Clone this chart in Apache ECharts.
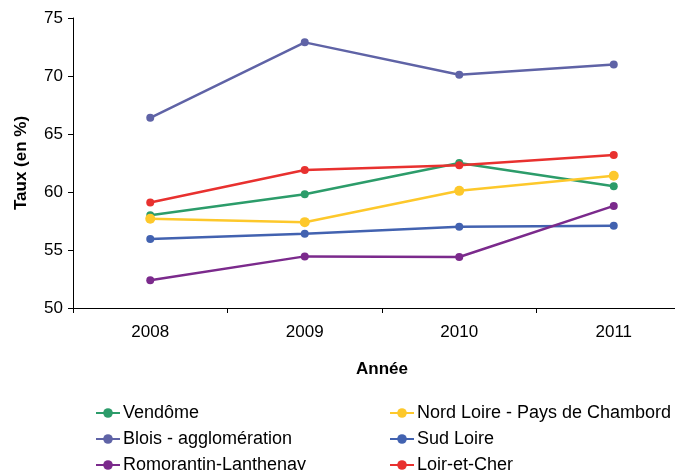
<!DOCTYPE html>
<html>
<head>
<meta charset="utf-8">
<script src="https://cdn.jsdelivr.net/npm/echarts@6/dist/echarts.min.js"></script>
<style>
  html, body { margin: 0; padding: 0; background: #fff; overflow: hidden; }
  #wrap { width: 675px; height: 470px; overflow: hidden; }
  #chart { width: 691px; height: 490px; }
</style>
</head>
<body>
<div id="wrap"><div id="chart"></div></div>
<script>
const years = ['2008', '2009', '2010', '2011'];

const vendome = [58.0, 59.8, 62.5, 60.5];
const nordLoire = [57.7, 57.4, 60.1, 61.4];
const blois = [66.4, 72.9, 70.1, 71.0];
const sudLoire = [55.95, 56.4, 57.0, 57.1];
const romorantin = [52.4, 54.45, 54.4, 58.8];
const loirEtCher = [59.1, 61.9, 62.3, 63.2];

const font = 'Liberation Sans, Arial, sans-serif';

const chart = echarts.init(document.getElementById('chart'));

function line(name, data, color, size) {
  return {
    name: name,
    type: 'line',
    data: data,
    symbol: 'circle',
    symbolSize: size || 8,
    lineStyle: { color: color, width: 2.5 },
    itemStyle: { color: color },
    animation: false
  };
}

const legendBase = {
  orient: 'vertical',
  top: 399,
  height: 90,
  itemGap: 8,
  itemWidth: 24,
  itemHeight: 12,
  textStyle: { fontFamily: font, fontSize: 18, color: '#000', padding: [0, 0, 0, -2] }
};

const options = {
  backgroundColor: '#fff',
  grid: { left: 73, right: 0, top: 18, bottom: 182, outerBoundsMode: 'none' },
  legend: [
    Object.assign({}, legendBase, { left: 90, data: ['Vendôme', 'Blois - agglomération', 'Romorantin-Lanthenay'] }),
    Object.assign({}, legendBase, { left: 384, data: ['Nord Loire - Pays de Chambord', 'Sud Loire', 'Loir-et-Cher'] })
  ],
  xAxis: {
    type: 'category',
    data: years,
    boundaryGap: true,
    name: 'Année',
    nameLocation: 'middle',
    nameGap: 53,
    nameTextStyle: { fontFamily: font, fontSize: 17, fontWeight: 'bold', color: '#000' },
    axisLine: { lineStyle: { color: '#000', width: 1 } },
    axisTick: { show: true, length: 5, lineStyle: { color: '#000' } },
    axisLabel: { fontFamily: font, fontSize: 17, color: '#000', margin: 16 },
    splitLine: { show: false }
  },
  yAxis: {
    type: 'value',
    min: 50,
    max: 75,
    interval: 5,
    name: 'Taux (en %)',
    nameLocation: 'middle',
    nameGap: 43,
    nameRotate: 90,
    nameTextStyle: { fontFamily: font, fontSize: 17, fontWeight: 'bold', color: '#000' },
    axisLine: { show: true, lineStyle: { color: '#000', width: 1 } },
    axisTick: { show: true, length: 5, lineStyle: { color: '#000' } },
    axisLabel: { fontFamily: font, fontSize: 17, color: '#000', margin: 10 },
    splitLine: { show: false }
  },
  series: [
    line('Vendôme', vendome, '#2c9c6a'),
    line('Nord Loire - Pays de Chambord', nordLoire, '#fdc82b', 10),
    line('Blois - agglomération', blois, '#5f63a6'),
    line('Sud Loire', sudLoire, '#4262b0'),
    line('Romorantin-Lanthenay', romorantin, '#7b2a8c'),
    line('Loir-et-Cher', loirEtCher, '#e8312f')
  ]
};

chart.setOption(options);
</script>
</body>
</html>
